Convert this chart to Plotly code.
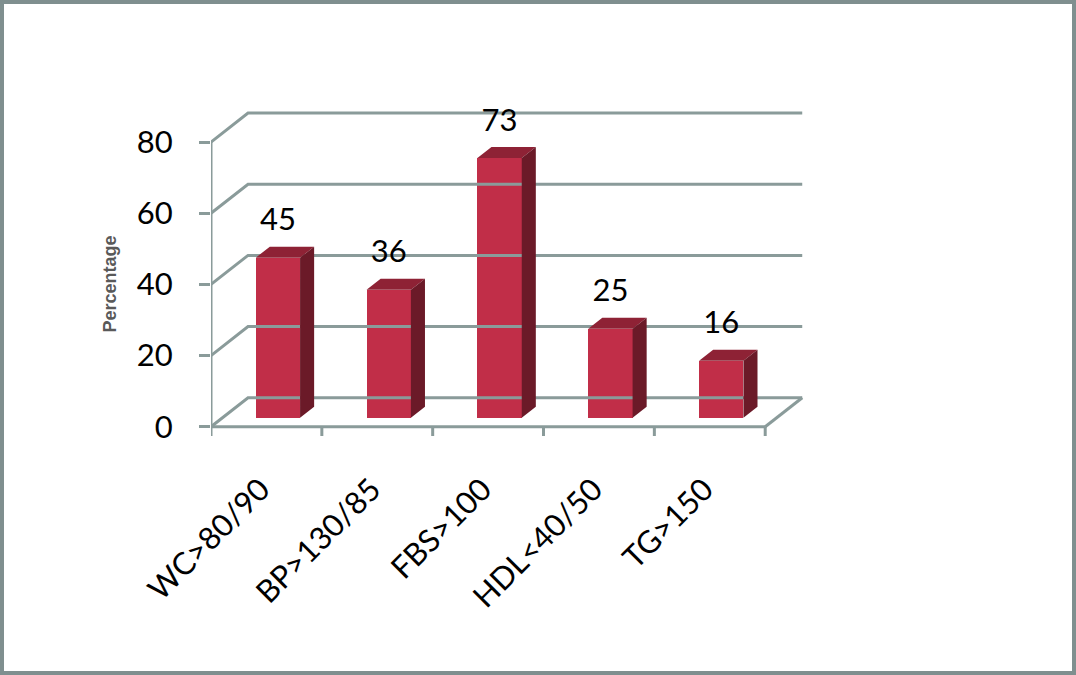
import plotly.graph_objects as go

# data
categories = ['WC>80/90', 'BP>130/85', 'FBS>100', 'HDL<40/50', 'TG>150']
percentages = [45, 36, 73, 25, 16]
y_ticks = [0, 20, 40, 60, 80]

# look of the fake 3d box
W, H = 1076, 675
M_L, M_R, M_T, M_B = 211, 272, 98, 239
KX, KY = 0.334, 8.15        # depth offset (x in category units, y in value units)
D_FRONT, D_DEPTH = 0.31, 0.38
BAR_W = 0.4
GRID = '#8A9B9A'
FRONT, TOP, SIDE = '#C12E48', '#8E2235', '#6B1A28'
FONT = 'Lato, "Open Sans", sans-serif'
BIG = 31

n = len(categories)
left, right = -0.5, n - 0.5


def line_trace(xs, ys):
    """Gray line segments (None separated) on the data axes."""
    return go.Scatter(x=xs, y=ys, mode='lines', hoverinfo='skip',
                      line=dict(color=GRID, width=3), showlegend=False)


fig = go.Figure()

# back wall gridlines plus the diagonals back to the front axis
gx, gy = [], []
for v in y_ticks:
    gx += [left, left + KX, right + KX, None]
    gy += [v, v + KY, v + KY, None]
gx += [right, right + KX, None]
gy += [0, KY, None]
fig.add_trace(line_trace(gx, gy))

# front floor edge, front value axis, category tick marks
fx = [left, right, None, left, left, None]
fy = [0, 0, None, 0, y_ticks[-1], None]
for i in range(n + 1):
    fx += [left + i, left + i, None]
    fy += [0, -2.6, None]
fig.add_trace(line_trace(fx, fy))

# front faces of the bars
x_front = [i + D_FRONT * KX for i in range(n)]
fig.add_trace(go.Bar(
    x=x_front, y=percentages, base=[D_FRONT * KY] * n, width=BAR_W,
    marker=dict(color=FRONT, line=dict(width=0)), showlegend=False,
    hovertemplate='%{customdata}: %{y}<extra></extra>', customdata=categories,
))

# top and side faces
tx, ty, sx, sy = [], [], [], []
dx, dy = D_DEPTH * KX, D_DEPTH * KY
for xc, v in zip(x_front, percentages):
    xl, xr = xc - BAR_W / 2, xc + BAR_W / 2
    b, t = D_FRONT * KY, v + D_FRONT * KY
    tx += [xl, xr, xr + dx, xl + dx, xl, None]
    ty += [t, t, t + dy, t + dy, t, None]
    sx += [xr, xr + dx, xr + dx, xr, xr, None]
    sy += [b, b + dy, t + dy, t, b, None]
for px, py, col in [(tx, ty, TOP), (sx, sy, SIDE)]:
    fig.add_trace(go.Scatter(x=px, y=py, mode='lines', fill='toself', fillcolor=col,
                             line=dict(width=0, color=col), hoverinfo='skip', showlegend=False))

# value labels above the bars
fig.add_trace(go.Scatter(
    x=x_front, y=[v + 12.4 for v in percentages], mode='text',
    text=[str(v) for v in percentages], textposition='middle center',
    textfont=dict(size=BIG, color='black', family=FONT), hoverinfo='skip', showlegend=False,
))

plot_w = W - M_L - M_R
plot_h = H - M_T - M_B
fig.update_layout(
    width=W, height=H,
    margin=dict(l=M_L, r=M_R, t=M_T, b=M_B),
    plot_bgcolor='white', paper_bgcolor='white',
    font=dict(family=FONT, color='black'),
    bargap=0,
    xaxis=dict(
        range=[left, right + KX + 0.016], showgrid=False, zeroline=False, showline=False,
        tickmode='array', tickvals=[i - 0.05 for i in range(n)], ticktext=categories,
        tickangle=-45, ticks='', tickfont=dict(size=BIG), ticklabelstandoff=28,
    ),
    yaxis=dict(
        range=[-2.6, 92.4], showgrid=False, zeroline=False, showline=False,
        tickmode='array', tickvals=y_ticks, ticks='outside', ticklen=11,
        tickwidth=3, tickcolor=GRID, tickfont=dict(size=BIG), ticklabelstandoff=20,
    ),
    # axis title centred on the front value axis rather than the whole plot area
    annotations=[dict(
        text='<b>Percentage</b>', textangle=-90, showarrow=False,
        xref='paper', x=0, xanchor='center', xshift=-101,
        yref='y', y=y_ticks[-1] / 2, yanchor='middle',
        font=dict(size=18, color='#595959', family='"Liberation Sans", Arial, sans-serif'),
    )],
    shapes=[dict(
        type='rect', xref='paper', yref='paper',
        x0=(-M_L + 2) / plot_w, x1=(W - M_L - 2) / plot_w,
        y0=(-M_B + 2) / plot_h, y1=(H - M_B - 2) / plot_h,
        line=dict(color='#7F8F8F', width=4), layer='below',
    )],
)

# drop the default 8px page margin so the figure fills the window
fig.write_html('out.html', config=dict(displayModeBar=False),
               post_script="document.body.style.margin = '0';")
